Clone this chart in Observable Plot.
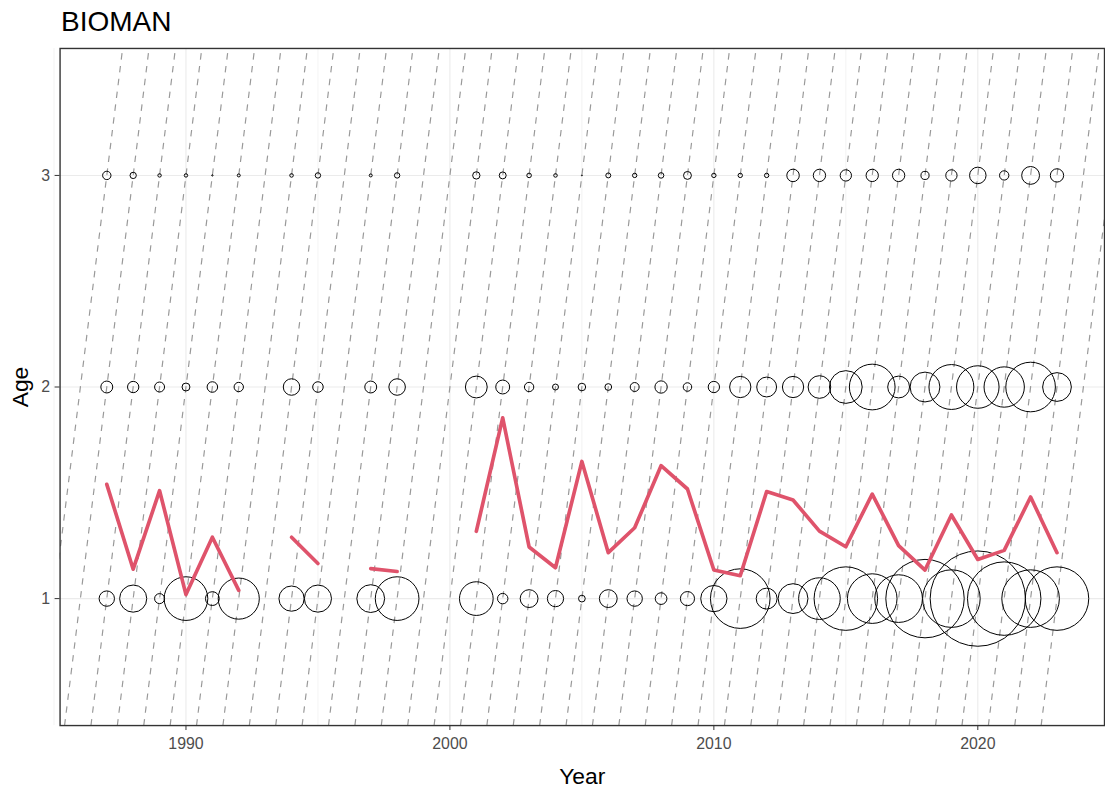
<!DOCTYPE html>
<html>
<head>
<meta charset="utf-8">
<script src="https://cdn.jsdelivr.net/npm/d3@7"></script>
<script src="https://cdn.jsdelivr.net/npm/@observablehq/plot@0.6"></script>
<style>
  html, body { margin: 0; padding: 0; background: #fff; overflow: hidden; }
  #title { height: 36px; padding-top: 8px; padding-left: 61px; font-family: "Liberation Sans", Arial, sans-serif; font-size: 28px; line-height: 28px; color: #000; }
  #chart svg { display: block; }
</style>
</head>
<body>
<div id="title">BIOMAN</div>
<div id="chart"></div>
<script>
// Survey years
const years = [1987,1988,1989,1990,1991,1992,1994,1995,1997,1998,
  2001,2002,2003,2004,2005,2006,2007,2008,2009,2010,
  2011,2012,2013,2014,2015,2016,2017,2018,2019,2020,2021,2022,2023];
// Relative abundance at age (bubble area)
const age1 = [0.026,0.081,0.011,0.210,0.021,0.186,0.070,0.081,0.085,0.210,
  0.125,0.012,0.035,0.029,0.005,0.035,0.026,0.015,0.022,0.076,
  0.391,0.048,0.098,0.191,0.444,0.271,0.250,0.677,0.365,1.000,0.594,0.365,0.444];
const age2 = [0.0156,0.0141,0.0109,0.0069,0.0122,0.0096,0.030,0.0122,0.0156,0.030,
  0.0525,0.0213,0.0096,0.0039,0.0063,0.005,0.0088,0.0167,0.008,0.0141,
  0.0497,0.0434,0.0497,0.0564,0.118,0.230,0.0525,0.098,0.222,0.199,0.179,0.271,0.091];
const age3 = [0.0077,0.0044,0.0013,0.0013,0.0002,0.001,0.0014,0.0032,0.001,0.0032,
  0.0059,0.0053,0.0023,0.0014,0.0001,0.0027,0.0021,0.0034,0.0069,0.0021,
  0.0021,0.0021,0.0172,0.0167,0.0141,0.0167,0.0167,0.0073,0.0141,0.030,0.0096,0.035,0.0195];
// Mean age per year
const meanAge = [1.54,1.139,1.51,1.019,1.29,1.039,1.29,1.166,1.142,1.128,
  1.318,1.854,1.244,1.146,1.648,1.217,1.335,1.628,1.518,1.135,
  1.108,1.506,1.466,1.319,1.245,1.494,1.25,1.135,1.395,1.185,1.228,1.48,1.217];

const ages = [1, 2, 3];
const xTicks = [1990, 2000, 2010, 2020];
const xMinor = [1985, 1995, 2005, 2015];
const yTicks = [1, 2, 3];
const yDomain = [0.4, 3.6];

// Tables built from the arrays
const byAge = [age1, age2, age3];
const bubbles = [];
years.forEach((yr, i) => ages.forEach((a, j) => bubbles.push({year: yr, age: a, value: byAge[j][i]})));

let seg = 0;
const meanRows = years.map((yr, i) => {
  if (i > 0 && yr - years[i - 1] > 1) seg++;
  return {year: yr, mean: meanAge[i], seg};
});

const cohorts = d3.range(d3.min(years) - d3.max(ages), d3.max(years) - d3.min(ages) + 1);

const font = "'Liberation Sans', Arial, sans-serif";

const chart = Plot.plot({
  width: 1113,
  height: 749,
  marginTop: 4,
  marginBottom: 63,
  marginLeft: 60,
  marginRight: 1,
  style: {fontFamily: font, fontSize: "16px", background: "#fff", overflow: "visible"},
  x: {domain: [1985.23, 2024.8]},
  y: {domain: yDomain},
  r: {type: "sqrt", domain: [0, 1], range: [0, 48]},
  marks: [
    Plot.gridX(xMinor, {stroke: "#EBEBEB", strokeOpacity: 1, strokeWidth: 0.6}),
    Plot.gridX(xTicks, {stroke: "#EBEBEB", strokeOpacity: 1, strokeWidth: 1.1}),
    Plot.gridY(yTicks, {stroke: "#EBEBEB", strokeOpacity: 1, strokeWidth: 1.1}),
    Plot.link(cohorts, {
      x1: c => c + yDomain[0], y1: () => yDomain[0],
      x2: c => c + yDomain[1], y2: () => yDomain[1],
      stroke: "#999999", strokeWidth: 1.2, strokeDasharray: "6.5,6.5", clip: true
    }),
    Plot.dot(bubbles, {x: "year", y: "age", r: "value", stroke: "#000", strokeWidth: 1, fill: "none"}),
    Plot.line(meanRows, {x: "year", y: "mean", z: "seg", stroke: "#DF536B", strokeWidth: 3.7, strokeLinejoin: "round"}),
    Plot.frame({stroke: "#333", strokeWidth: 1.4}),
    Plot.axisX(xTicks, {tickSize: 5, stroke: "#333", tickFormat: () => "", label: null}),
    Plot.axisY(yTicks, {tickSize: 5, stroke: "#333", tickFormat: () => "", label: null}),
    Plot.text(xTicks, {x: d => d, frameAnchor: "bottom", lineAnchor: "top", dy: 12, fontSize: 16, fill: "#4D4D4D", text: d => String(d)}),
    Plot.text(yTicks, {y: d => d, frameAnchor: "left", textAnchor: "end", lineAnchor: "middle", dx: -10, fontSize: 16, fill: "#4D4D4D", text: d => String(d)}),
    Plot.text(["Year"], {frameAnchor: "bottom", lineAnchor: "middle", textAnchor: "middle", dy: 52, fontSize: 23, fill: "#000", text: d => d}),
    Plot.text(["Age"], {frameAnchor: "left", lineAnchor: "middle", textAnchor: "middle", dx: -40, rotate: -90, fontSize: 23, fill: "#000", text: d => d})
  ]
});
document.getElementById("chart").appendChild(chart);
</script>
</body>
</html>
